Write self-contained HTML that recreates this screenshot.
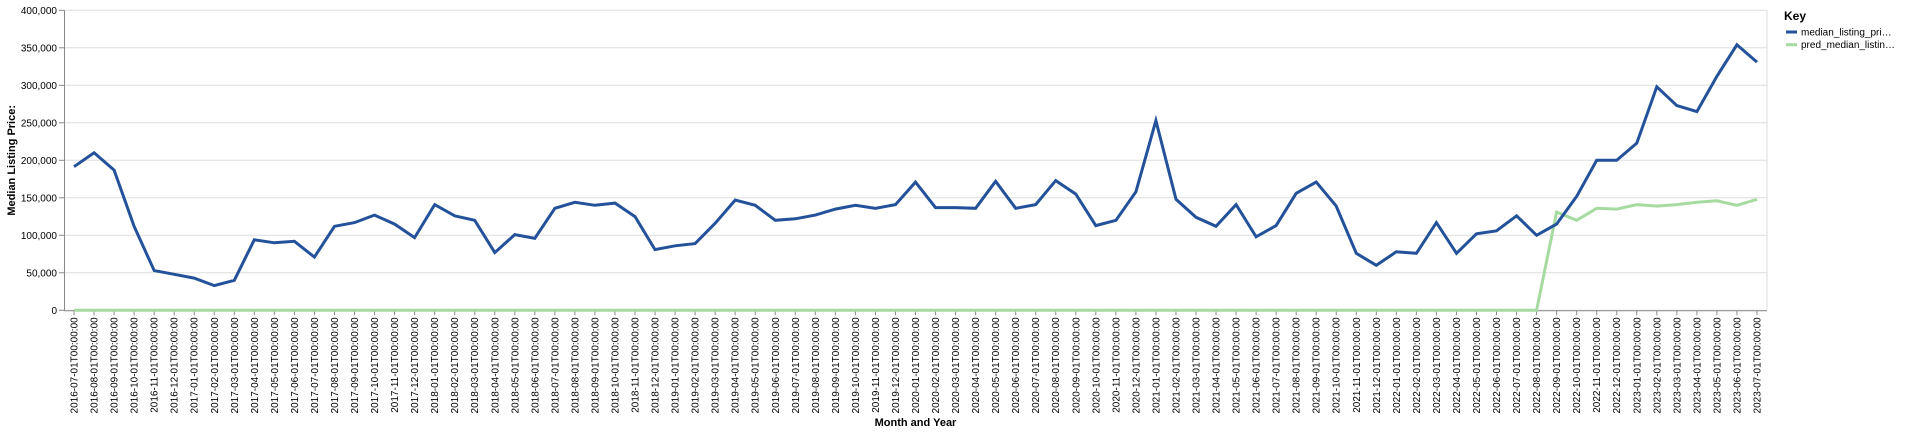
<!DOCTYPE html>
<html><head><meta charset="utf-8"><style>
body{margin:0;background:#fff;}
svg{display:block;font-family:"Liberation Sans",Arial,sans-serif;}
</style></head><body>
<svg id="chart" width="1920" height="434"></svg>
<script>
const months = [];
for (let y = 2016, m = 7; !(y === 2023 && m === 8); ) {
  months.push(y + '-' + String(m).padStart(2, '0') + '-01T00:00:00');
  m++; if (m > 12) { m = 1; y++; }
}
const actualValues = [191500,210000,187000,112000,53000,48000,43000,33000,40000,94000,90000,92000,71000,112000,117000,127000,115000,97000,141000,126000,120000,77000,101000,96000,136000,144000,140000,143000,125000,81000,86000,89000,116000,147000,140000,120000,122000,127000,135000,140000,136000,141000,171000,137000,137000,136000,172000,136000,141000,173000,155000,113000,120000,158000,253000,148000,124000,112000,141000,98000,113000,156000,171000,139000,76000,60000,78000,76000,117000,76000,102000,106000,126000,100000,115000,152000,200000,200000,223000,298000,273000,265000,312000,354000,331000];
const predValues = [0,0,0,0,0,0,0,0,0,0,0,0,0,0,0,0,0,0,0,0,0,0,0,0,0,0,0,0,0,0,0,0,0,0,0,0,0,0,0,0,0,0,0,0,0,0,0,0,0,0,0,0,0,0,0,0,0,0,0,0,0,0,0,0,0,0,0,0,0,0,0,0,0,0,131000,120000,136000,135000,141000,139000,141000,144000,146000,140000,148000];
const yTicks = [0,50000,100000,150000,200000,250000,300000,350000,400000];

const NS = 'http://www.w3.org/2000/svg';
const svg = document.getElementById('chart');
const L = 64, R = 1767, T = 10.3, B = 310.3, yMax = 400000;
const step = (R - L) / months.length;
const xs = i => L + step * (i + 0.5);
const ys = v => B - (v / yMax) * (B - T);
function mk(tag, attrs, parent) {
  const e = document.createElementNS(NS, tag);
  for (const k in attrs) e.setAttribute(k, attrs[k]);
  (parent || svg).appendChild(e);
  return e;
}
const grid = mk('g', {});


yTicks.forEach(t => {
  mk('line', {x1: L, x2: R, y1: ys(t), y2: ys(t), stroke: '#ddd', 'stroke-width': 1}, grid);
});
mk('line', {x1: R, x2: R, y1: T, y2: B, stroke: '#ddd'}, grid);
const yAxis = mk('g', {});


mk('line', {x1: L + 0.5, x2: L + 0.5, y1: T, y2: B, stroke: '#888'}, yAxis);
yTicks.forEach(t => {
  mk('line', {x1: L - 5, x2: L, y1: ys(t), y2: ys(t), stroke: '#888'}, yAxis);
  const tx = mk('text', {x: L - 7, y: ys(t) + 3.5, 'text-anchor': 'end', 'font-size': 10, fill: '#000'}, yAxis);
  tx.textContent = t.toLocaleString('en-US');
  
  
});
const yt = mk('text', {transform: 'translate(15,' + ((T + B) / 2) + ') rotate(-90)', 'text-anchor': 'middle', 'font-size': 11, 'font-weight': 'bold'});
yt.textContent = 'Median Listing Price:';


const xAxis = mk('g', {});


mk('line', {x1: L, x2: R, y1: B + 0.5, y2: B + 0.5, stroke: '#888'}, xAxis);
months.forEach((m, i) => {
  mk('line', {x1: xs(i), x2: xs(i), y1: B, y2: B + 5, stroke: '#888'}, xAxis);
  const tx = mk('text', {transform: 'translate(' + (xs(i) + 3.5) + ',' + (B + 7) + ') rotate(-90)', 'text-anchor': 'end', 'font-size': 10}, xAxis);
  tx.textContent = m;
  
  
});
const xt = mk('text', {x: (L + R) / 2, y: 426, 'text-anchor': 'middle', 'font-size': 11, 'font-weight': 'bold'});
xt.textContent = 'Month and Year';


function line(vals, color, name) {
  const p = mk('path', {d: vals.map((v, i) => (i ? 'L' : 'M') + xs(i).toFixed(1) + ',' + ys(v).toFixed(1)).join(''), fill: 'none', stroke: color, 'stroke-width': 3, 'stroke-linejoin': 'miter'});
  
  
}
line(predValues, '#a6dba0', 'pred-median-listing-price-line');
line(actualValues, '#24529a', 'median-listing-price-line');
const lg = mk('g', {});


const kt = mk('text', {x: 1784, y: 20, 'font-size': 12, 'font-weight': 'bold'}, lg);
kt.textContent = 'Key';


[['median_listing_pri…', '#24529a', 32], ['pred_median_listin…', '#a6dba0', 44.7]].forEach(([t, c, y]) => {
  mk('line', {x1: 1786, x2: 1797, y1: y, y2: y, stroke: c, 'stroke-width': 3}, lg);
  const tx = mk('text', {x: 1801, y: y + 3.5, 'font-size': 10}, lg);
  tx.textContent = t;
  
  
});
</script>
</body></html>
